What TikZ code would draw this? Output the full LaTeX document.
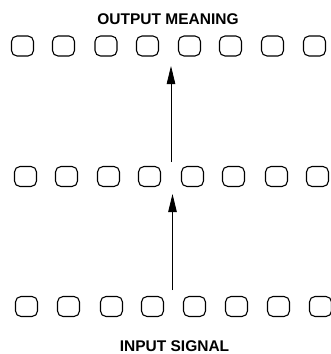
\documentclass[tikz,border=0pt]{standalone}
\usepackage{fontspec}
\setmainfont{Liberation Sans}
\usetikzlibrary{arrows.meta}
\begin{document}
\begin{tikzpicture}[x=1pt,y=-1pt,
  unit/.style={draw=black,line width=1.1pt,rounded corners=5.5pt,minimum width=22pt,minimum height=20pt,inner sep=0pt},
  caption/.style={font=\fontsize{15.5}{17}\selectfont\bfseries,inner sep=0pt},
  flow/.style={line width=0.8pt,-{Triangle[width=8.5pt,length=18pt]}}]
\useasboundingbox (0,0) rectangle (330,354);
% top layer
\foreach \i/\x in {1/22.5,2/63.5,3/106,4/147.5,5/189.5,6/230.5,7/272.5,8/314.5}
  \node[unit] (t\i) at (\x,46) {};
% middle layer
\foreach \i/\x in {1/25.5,2/66.5,3/108.5,4/149.5,5/192.5,6/233.5,7/276.5,8/317.5}
  \node[unit] (m\i) at (\x,176.5) {};
% bottom layer
\foreach \i/\x in {1/26.5,2/68.5,3/111.5,4/152.5,5/194.5,6/236.5,7/278.5,8/320.5}
  \node[unit] (b\i) at (\x,306.5) {};
\node[caption] (out) at (168,19) {OUTPUT MEANING};
\node[caption] (in) at (174.5,346) {INPUT SIGNAL};
% connections between layers
\coordinate (u0) at (171,162);
\coordinate (u1) at (171,66);
\coordinate (l0) at (172.5,290);
\coordinate (l1) at (172.5,194);
\draw[flow] (u0) -- (u1);
\draw[flow] (l0) -- (l1);
\end{tikzpicture}
\end{document}
